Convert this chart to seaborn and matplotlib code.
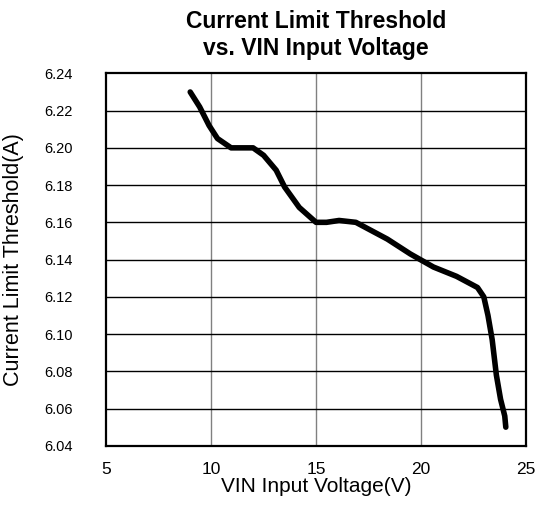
import matplotlib
matplotlib.use("Agg")
import matplotlib.pyplot as plt
import seaborn as sns
import pandas as pd

# Curve
vin = [9.0, 9.45, 9.9, 10.3, 10.95, 12.0, 12.5, 13.1, 13.5, 14.2, 15.0, 15.5,
       16.1, 16.9, 18.4, 19.5, 20.6, 21.7, 22.7, 23.0, 23.2, 23.4, 23.6, 23.8,
       24.0, 24.05]
ilim = [6.230, 6.222, 6.212, 6.205, 6.200, 6.200, 6.196, 6.188, 6.179, 6.168,
        6.160, 6.160, 6.161, 6.160, 6.151, 6.143, 6.136, 6.131, 6.125, 6.120,
        6.110, 6.097, 6.078, 6.065, 6.056, 6.050]

x_ticks = [5, 10, 15, 20, 25]
y_ticks = [6.04, 6.06, 6.08, 6.10, 6.12, 6.14, 6.16, 6.18, 6.20, 6.22, 6.24]

df = pd.DataFrame({"vin": vin, "ilim": ilim})

sns.set_style("white")
plt.rcParams["font.family"] = ["Liberation Sans", "DejaVu Sans"]
plt.rcParams["text.color"] = "black"
plt.rcParams["axes.labelcolor"] = "black"
plt.rcParams["xtick.color"] = "black"
plt.rcParams["ytick.color"] = "black"

fig = plt.figure(figsize=(5.37, 5.13), dpi=100)
ax = fig.add_axes([0.198, 0.131, 0.781, 0.726])

# Grid: vertical grey, horizontal black
for xv in x_ticks[1:-1]:
    ax.axvline(xv, color="#808080", lw=1.0, zorder=1)
for yv in y_ticks[1:-1]:
    ax.axhline(yv, color="black", lw=1.0, zorder=1)

sns.lineplot(data=df, x="vin", y="ilim", sort=False, color="black",
             lw=4.0, ax=ax, zorder=3, solid_capstyle="round",
             solid_joinstyle="round")

ax.set_xlim(5, 25)
ax.set_ylim(6.04, 6.24)
ax.set_xticks(x_ticks)
ax.set_yticks(y_ticks)
ax.set_yticklabels([f"{v:.2f}" for v in y_ticks])
ax.tick_params(axis="both", length=0)
ax.tick_params(axis="y", pad=24, labelsize=10.5)
ax.tick_params(axis="x", pad=12, labelsize=12.5)

for s in ax.spines.values():
    s.set_visible(True)
    s.set_color("black")
    s.set_linewidth(1.6)

ax.set_xlabel("VIN Input Voltage(V)", fontsize=15, labelpad=0)
ax.set_ylabel("Current Limit Threshold(A)", fontsize=15.5, labelpad=15)
ax.set_title("Current Limit Threshold\nvs. VIN Input Voltage",
             fontsize=16.5, fontweight="bold", pad=13, linespacing=1.25)

fig.savefig("out.png", dpi=100, facecolor="white")
